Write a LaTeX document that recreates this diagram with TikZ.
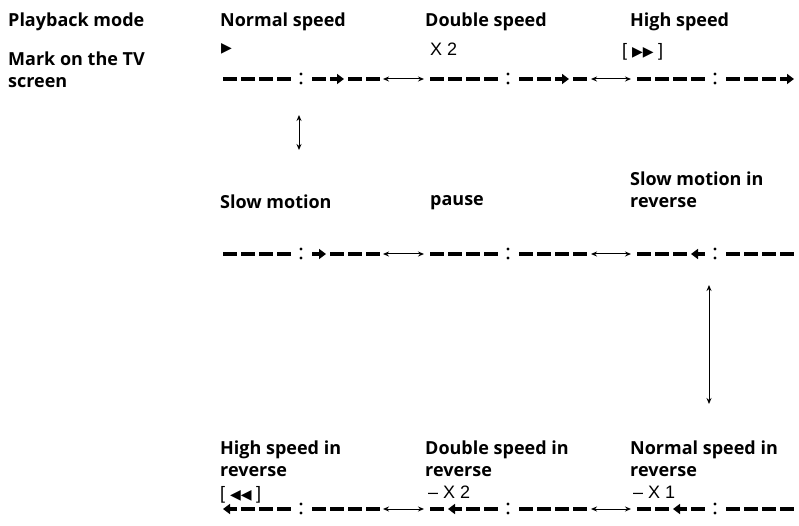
\documentclass[tikz,border=0pt]{standalone}
\usepackage{fontspec}
\setmainfont{Open Sans}
\newfontfamily\symf{DejaVu Sans}
\newfontfamily\arf{Liberation Sans}
\usetikzlibrary{arrows.meta}
\begin{document}
\begin{tikzpicture}[x=1pt,y=-1pt,
  lab/.style={anchor=north west,inner sep=0pt,font=\fontsize{18}{22}\selectfont\bfseries,align=left},
  mk/.style={anchor=north west,inner sep=0pt,font=\arf\fontsize{18}{20}\selectfont},
  dsh/.style={line width=3.2pt},
  ar/.style={line width=3.2pt,-{Triangle[length=7pt,width=10pt]}},
  al/.style={line width=3.2pt,{Triangle[length=7pt,width=10pt]}-},
  link/.style={line width=1pt,{Stealth[length=6pt,width=5pt]}-{Stealth[length=6pt,width=5pt]}}]
\useasboundingbox (0,0) rectangle (799,526);
\newcommand\mygroup[3]{%
  \foreach \o [count=\i] in {0,18,36,54,89,107,125,143}{%
    \pgfmathsetmacro\code{{#3}[\i-1]}%
    \if r\code \draw[ar] (#1+\o,#2) -- ++(14,0);
    \else\if l\code \draw[al] (#1+\o,#2) -- ++(14,0);
    \else \draw[dsh] (#1+\o,#2) -- ++(14,0);\fi\fi}%
  \fill (#1+78,#2-5) circle (1.6pt) (#1+78,#2+4) circle (1.6pt);}
\node[lab] (pm) at (8,13) {Playback mode};
\node[lab] (tv) at (8,52) {Mark on the TV\\screen};
\node[lab] (ns) at (220,13) {Normal speed};
\node[lab] (ds) at (425,13) {Double speed};
\node[lab] (hs) at (630,13) {High speed};
\node[mk] (m1) at (221,43) {\symf\fontsize{14}{16}\selectfont ▶};
\node[mk] (m2) at (430,43) {X 2};
\node[mk] (m3) at (622,43) {[ \symf\fontsize{14}{16}\selectfont ▶▶ \arf\fontsize{18}{20}\selectfont]};
\mygroup{223}{79}{"n","n","n","n","n","r","n","n"}
\mygroup{430}{79}{"n","n","n","n","n","n","r","n"}
\mygroup{637}{79}{"n","n","n","n","n","n","n","r"}
\coordinate (a1) at (383,79); \coordinate (b1) at (424,79);
\coordinate (a2) at (591,79); \coordinate (b2) at (631,79);
\draw[link] (a1) -- (b1); \draw[link] (a2) -- (b2);
\coordinate (v1) at (299,115); \coordinate (v2) at (299,150);
\draw[link] (v1) -- (v2);
\node[lab] (sm) at (220,195) {Slow motion};
\node[lab] (pa) at (430,195) {pause};
\node[lab] (smr) at (630,172) {Slow motion in\\reverse};
\mygroup{223}{254}{"n","n","n","n","r","n","n","n"}
\mygroup{430}{254}{"n","n","n","n","n","n","n","n"}
\mygroup{637}{254}{"n","n","n","l","n","n","n","n"}
\coordinate (a3) at (383,254); \coordinate (b3) at (424,254);
\coordinate (a4) at (591,254); \coordinate (b4) at (631,254);
\draw[link] (a3) -- (b3); \draw[link] (a4) -- (b4);
\coordinate (v3) at (709,285); \coordinate (v4) at (709,404);
\draw[link] (v3) -- (v4);
\node[lab] (hsr) at (220,441) {High speed in\\reverse};
\node[lab] (dsr) at (425,441) {Double speed in\\reverse};
\node[lab] (nsr) at (630,441) {Normal speed in\\reverse};
\node[mk] (m4) at (220,486) {[ \symf\fontsize{14}{16}\selectfont ◀◀ \arf\fontsize{18}{20}\selectfont]};
\node[mk] (m5) at (428,486) {– X 2};
\node[mk] (m6) at (633,486) {– X 1};
\mygroup{223}{509}{"l","n","n","n","n","n","n","n"}
\mygroup{430}{509}{"n","l","n","n","n","n","n","n"}
\mygroup{637}{509}{"n","n","l","n","n","n","n","n"}
\coordinate (a5) at (383,509); \coordinate (b5) at (424,509);
\coordinate (a6) at (591,509); \coordinate (b6) at (631,509);
\draw[link] (a5) -- (b5); \draw[link] (a6) -- (b6);
\end{tikzpicture}
\end{document}
